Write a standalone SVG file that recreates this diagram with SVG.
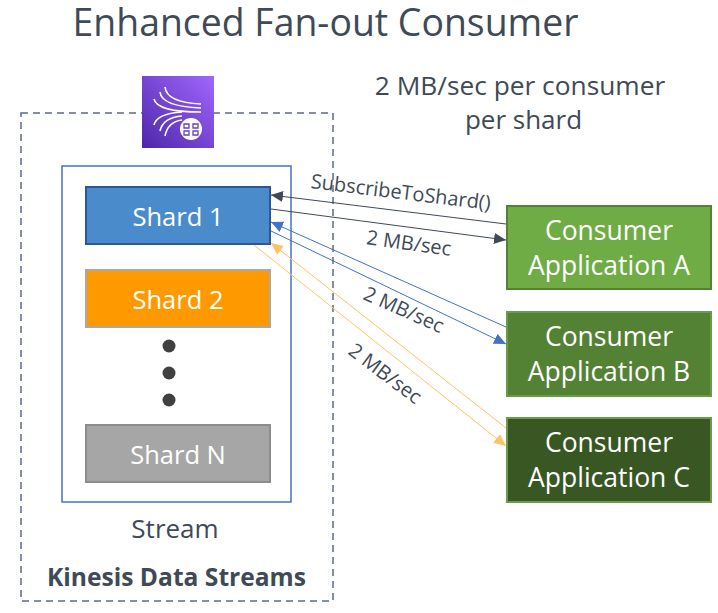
<svg xmlns="http://www.w3.org/2000/svg" width="718" height="613" viewBox="0 0 718 613">
<defs>
<linearGradient id="g" x1="0" y1="1" x2="1" y2="0"><stop offset="0" stop-color="#4d27a8"/><stop offset="1" stop-color="#a166ff"/></linearGradient>
<marker id="ad" markerUnits="userSpaceOnUse" markerWidth="13" markerHeight="13" refX="12" refY="5.5" orient="auto"><path d="M0 0L12 5.5L0 11z" fill="#404a56"/></marker>
<marker id="ab" markerUnits="userSpaceOnUse" markerWidth="13" markerHeight="13" refX="12" refY="5.5" orient="auto"><path d="M0 0L12 5.5L0 11z" fill="#4472c4"/></marker>
<marker id="ay" markerUnits="userSpaceOnUse" markerWidth="13" markerHeight="13" refX="12" refY="5.5" orient="auto"><path d="M0 0L12 5.5L0 11z" fill="#ffc266"/></marker>
</defs>
<style>
text{font-family:"Open Sans","Noto Sans","Liberation Sans",sans-serif;fill:#404a56}
.n{font-size:26.5px;fill:#fff;text-anchor:middle}
.h{font-size:25.500px;fill:#fff;text-anchor:middle}
.l{font-size:20px;text-anchor:middle}
.c{fill:none;stroke-width:1}
.s{stroke-width:2}
</style>
<rect width="718" height="613" fill="#fff"/>
<text x="325.500" y="36" text-anchor="middle" style="font-size:37.400px">Enhanced Fan-out Consumer</text>
<text x="520" y="95" text-anchor="middle" style="font-size:26.300px">2 MB/sec per consumer</text>
<text x="523.500" y="129" text-anchor="middle" style="font-size:26px">per shard</text>
<g id="kinesis">
<rect x="21" y="113" width="312" height="488" fill="none" stroke="#5a6b86" stroke-width="1.5" stroke-dasharray="7 5"/>
<text x="176.500" y="586" text-anchor="middle" style="font-size:24.600px;font-weight:700">Kinesis Data Streams</text>
</g>
<g id="icon">
<rect x="142" y="76" width="72" height="72" fill="url(#g)"/>
<g fill="none" stroke="#fff" stroke-width="1.6">
<path d="M165 87C166 97 178 103 201 104M160 92C161 102 176 107 201 108M154 99C156 108 174 112 201 112"/>
<path d="M182 112C166 113 156 117 154 125M182 116C170 117 162 122 160 131M182 120C174 121 167 126 165 136"/>
<circle cx="191" cy="129" r="11" fill="#fff" stroke="none"/>
<path d="M184 124h5v4h-5zM193 124h5v4h-5zM184 131h5v4h-5zM193 131h5v4h-5z" stroke="#6b3fc4" stroke-width="1.3"/>
</g>
</g>
<g id="stream">
<rect x="62" y="166" width="229" height="336" fill="#fff" stroke="#4472c4" stroke-width="1.5"/>
<text x="175" y="538" text-anchor="middle" style="font-size:26px">Stream</text>
</g>
<g id="shard1"><rect x="86" y="187" width="184" height="57" fill="#4a8ccb" stroke="#2f5597" class="s"/><text x="178" y="226" class="h">Shard 1</text></g>
<g id="shard2"><rect x="86" y="270" width="184" height="57" fill="#ff9900" stroke="#a9a9a9" class="s"/><text x="178" y="309" class="h">Shard 2</text></g>
<g id="dots" fill="#404040"><circle cx="169" cy="346" r="6.500"/><circle cx="169" cy="373" r="6.500"/><circle cx="169" cy="400" r="6.500"/></g>
<g id="shardn"><rect x="86" y="425" width="184" height="57" fill="#a6a6a6" stroke="#8c8c8c" class="s"/><text x="178" y="464" class="h">Shard N</text></g>
<g id="consumerA"><rect x="507" y="206" width="204" height="83" fill="#6fac46" stroke="#548235" class="s"/><text x="609" y="240" class="n">Consumer</text><text x="609" y="275" class="n">Application A</text></g>
<g id="consumerB"><rect x="507" y="312" width="204" height="84" fill="#548235" stroke="#6c9a4c" class="s"/><text x="609" y="346" class="n">Consumer</text><text x="609" y="381" class="n">Application B</text></g>
<g id="consumerC"><rect x="507" y="418" width="204" height="84" fill="#385723" stroke="#6c9a4c" class="s"/><text x="609" y="452" class="n">Consumer</text><text x="609" y="487" class="n">Application C</text></g>
<g id="connectors">
<path class="c" stroke="#404a56" marker-end="url(#ad)" d="M506 224L271 195"/>
<path class="c" stroke="#404a56" marker-end="url(#ad)" d="M271 209L506 240"/>
<path class="c" stroke="#4472c4" marker-end="url(#ab)" d="M506 327L271 222"/>
<path class="c" stroke="#4472c4" marker-end="url(#ab)" d="M271 231L506 344"/>
<path class="c" stroke="#ffc266" marker-end="url(#ay)" d="M506 428L271 243"/>
<path class="c" stroke="#ffc266" marker-end="url(#ay)" d="M254 245L506 446"/>
</g>
<text class="l" transform="translate(400 199) rotate(7)">SubscribeToShard()</text>
<text class="l" transform="translate(408 250) rotate(8)">2 MB/sec</text>
<text class="l" transform="translate(401 316) rotate(24)">2 MB/sec</text>
<text class="l" transform="translate(381 379) rotate(37)">2 MB/sec</text>
</svg>
